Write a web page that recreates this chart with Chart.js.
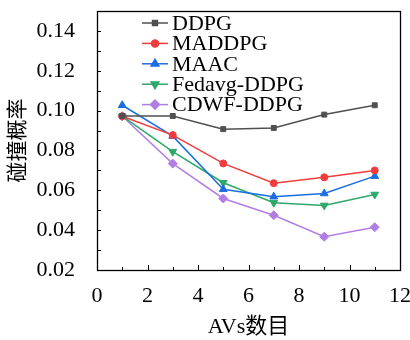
<!DOCTYPE html>
<html>
<head>
<meta charset="utf-8">
<script src="https://cdn.jsdelivr.net/npm/chart.js@4.4.1/dist/chart.umd.min.js"></script>
<style>
  html, body { margin: 0; padding: 0; background: #fff; }
</style>
</head>
<body>
<canvas id="chart" width="410" height="340"></canvas>
<script>
// data
const avCounts = [1, 3, 5, 7, 9, 11];
const ddpg     = [0.0973, 0.0973, 0.0907, 0.0913, 0.0980, 0.1027];
const maddpg   = [0.0972, 0.0877, 0.0735, 0.0636, 0.0665, 0.0700];
const maac     = [0.1027, 0.0872, 0.0605, 0.0568, 0.0584, 0.0671];
const fedavg   = [0.0972, 0.0794, 0.0638, 0.0538, 0.0524, 0.0579];
const cdwf     = [0.0972, 0.0734, 0.0559, 0.0475, 0.0367, 0.0415];
const seriesNames = ['DDPG', 'MADDPG', 'MAAC', 'Fedavg-DDPG', 'CDWF-DDPG'];

const serif = "'Liberation Serif', 'Times New Roman', 'Noto Sans CJK SC', serif";

const toPoints = arr => arr.map((v, i) => ({ x: avCounts[i], y: v }));

const makeSet = (label, values, color, style, radius, rotation) => ({
    label,
    data: toPoints(values),
    borderColor: color,
    backgroundColor: color,
    borderWidth: 1.5,
    pointStyle: style,
    pointRadius: radius,
    pointRotation: rotation || 0,
    pointBorderWidth: 1,
    tension: 0
});

const resetCtx = ctx => {
    ctx.setLineDash([]);
    ctx.globalAlpha = 1;
    ctx.globalCompositeOperation = 'source-over';
    ctx.shadowBlur = 0;
    ctx.shadowColor = 'rgba(0,0,0,0)';
};

// inward ticks + closed frame
const frameTicks = {
    id: 'frameTicks',
    afterDraw(chart) {
        const { ctx, chartArea: a, scales } = chart;
        ctx.save();
        resetCtx(ctx);
        ctx.strokeStyle = '#000';
        ctx.lineWidth = 1;
        scales.x.ticks.forEach(t => {
            const px = Math.round(scales.x.getPixelForValue(t.value)) + 0.5;
            const len = t.value % 2 === 0 ? 5 : 3;
            ctx.beginPath();
            ctx.moveTo(px, a.bottom);
            ctx.lineTo(px, a.bottom - len);
            ctx.stroke();
        });
        scales.y.ticks.forEach(t => {
            const py = Math.round(scales.y.getPixelForValue(t.value)) + 0.5;
            ctx.beginPath();
            ctx.moveTo(a.left, py);
            ctx.lineTo(a.left + 4, py);
            ctx.stroke();
        });
        ctx.lineWidth = 1.3;
        ctx.strokeRect(a.left + 0.5, a.top + 0.5, a.right - a.left, a.bottom - a.top);
        ctx.restore();
    }
};

// legend sits inside the plot, near the top
const innerLegend = {
    id: 'innerLegend',
    afterDatasetsDraw(chart) {
        const { ctx } = chart;
        const x0 = 142, y0 = 23, step = 20.4;
        ctx.save();
        resetCtx(ctx);
        chart.data.datasets.forEach((ds, i) => {
            const y = y0 + i * step;
            ctx.strokeStyle = ds.borderColor;
            ctx.fillStyle = ds.backgroundColor;
            ctx.lineWidth = 1.5;
            ctx.beginPath();
            ctx.moveTo(x0, y);
            ctx.lineTo(x0 + 26, y);
            ctx.stroke();
            Chart.helpers.drawPoint(ctx, {
                pointStyle: ds.pointStyle,
                radius: ds.pointRadius,
                rotation: ds.pointRotation,
                borderWidth: 1
            }, x0 + 13, y);
            ctx.fillStyle = '#000';
            ctx.font = '22px ' + serif;
            ctx.textBaseline = 'middle';
            ctx.fillText(ds.label, x0 + 30, y + 1);
        });
        ctx.restore();
    }
};

new Chart(document.getElementById('chart'), {
    type: 'line',
    data: {
        datasets: [
            makeSet(seriesNames[0], ddpg, '#505050', 'rect', 3.5),
            makeSet(seriesNames[1], maddpg, '#f03c3c', 'circle', 3.5),
            makeSet(seriesNames[2], maac, '#1a6ee0', 'triangle', 4.5),
            makeSet(seriesNames[3], fedavg, '#2ea868', 'triangle', 4.5, 180),
            makeSet(seriesNames[4], cdwf, '#b17ee6', 'rectRot', 4.5)
        ]
    },
    options: {
        responsive: false,
        animation: false,
        layout: { padding: { left: 0, top: 11, right: 10, bottom: 0 } },
        plugins: { legend: { display: false }, tooltip: { enabled: false } },
        scales: {
            x: {
                type: 'linear',
                min: 0, max: 12,
                grid: { display: false },
                border: { display: false },
                afterFit: s => { s.height = 70; s.paddingLeft = 0; s.paddingRight = 0; },
                ticks: {
                    stepSize: 1, autoSkip: false, maxRotation: 0, padding: 5, color: '#000',
                    font: { family: serif, size: 22 },
                    callback: v => (v % 2 === 0 ? String(v) : '')
                },
                title: { display: true, text: 'AVs数目', color: '#000', font: { family: serif, size: 22 }, padding: { top: 0, bottom: 0 } }
            },
            y: {
                min: 0.02, max: 0.15,
                grid: { display: false },
                border: { display: false },
                afterFit: s => { s.width = 97; s.paddingTop = 0; s.paddingBottom = 0; },
                ticks: {
                    stepSize: 0.01, autoSkip: false, padding: 14, color: '#000',
                    font: { family: serif, size: 22 },
                    callback: v => {
                        const k = Math.round(v * 100);
                        return k % 2 === 0 && k <= 14 ? (k / 100).toFixed(2) : '';
                    }
                },
                title: { display: true, text: '碰撞概率', color: '#000', font: { family: serif, size: 21 }, padding: { top: 6, bottom: 0 } }
            }
        }
    },
    plugins: [frameTicks, innerLegend]
});
</script>
</body>
</html>
